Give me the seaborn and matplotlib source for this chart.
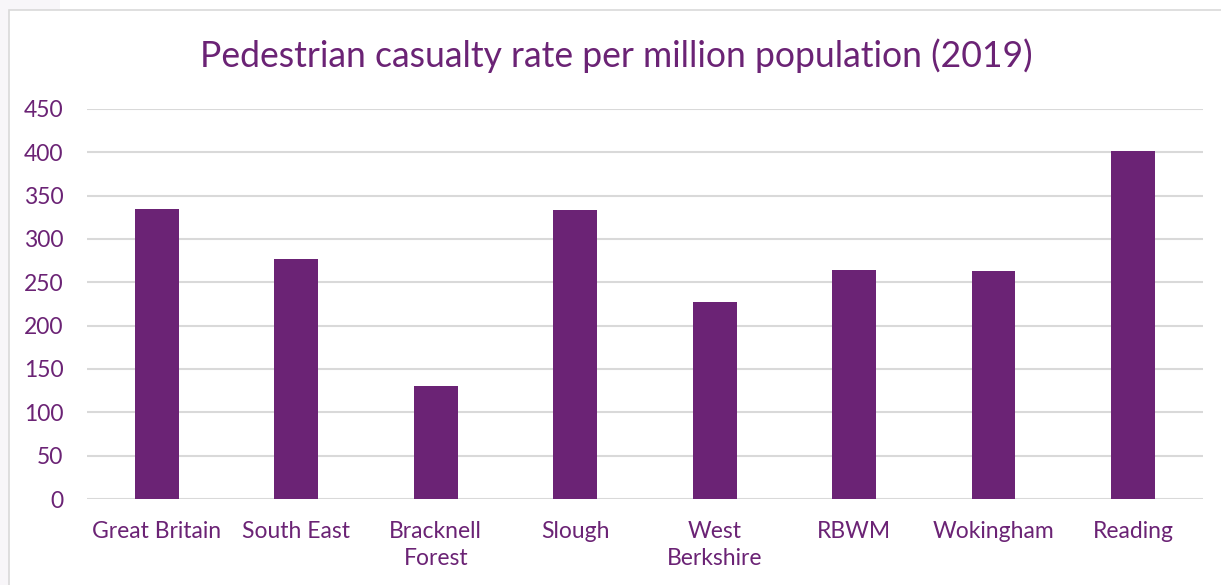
import matplotlib
matplotlib.use("Agg")
import matplotlib.pyplot as plt
import matplotlib.patches as mpatches
import seaborn as sns
import pandas as pd

areas = ["Great Britain", "South East", "Bracknell\nForest", "Slough",
         "West\nBerkshire", "RBWM", "Wokingham", "Reading"]
rates = [335, 277, 130, 334, 227, 264, 263, 401]
y_ticks = [0, 50, 100, 150, 200, 250, 300, 350, 400, 450]

purple = "#6B2375"
grid_grey = "#D9D9D9"

sns.set_theme(style="white")
plt.rcParams["font.family"] = ["Lato", "DejaVu Sans"]

df = pd.DataFrame({"area": areas, "rate": rates})

fig = plt.figure(figsize=(12.21, 5.85), dpi=100)
ax = fig.add_axes([0.0713, 0.147, 0.9137, 0.6667])

# chart frame and page edge
fig.patches.append(mpatches.Rectangle((0, 0), 9 / 1221, 1, transform=fig.transFigure,
                                      facecolor="#F8F6F9", edgecolor="none", zorder=0))
fig.patches.append(mpatches.Rectangle((0, 1 - 10 / 585), 60 / 1221, 10 / 585,
                                      transform=fig.transFigure,
                                      facecolor="#F8F6F9", edgecolor="none", zorder=0))
fig.patches.append(mpatches.Rectangle((9 / 1221, -0.05), 1.1, 1 - 10 / 585 + 0.05,
                                      transform=fig.transFigure, facecolor="none",
                                      edgecolor="#D9D9D9", linewidth=1.2, zorder=1))

sns.barplot(data=df, x="area", y="rate", color=purple, saturation=1,
            width=0.315, ax=ax, zorder=3)
for p in ax.patches:
    p.set_edgecolor("none")

ax.set_ylim(0, 450)
ax.set_xlim(-0.5, len(areas) - 0.5)
ax.set_yticks(y_ticks)
ax.yaxis.grid(True, color=grid_grey, linewidth=1.5, zorder=0)
ax.set_axisbelow(True)
for s in ax.spines.values():
    s.set_visible(False)

ax.set_xlabel("")
ax.set_ylabel("")
ax.tick_params(axis="both", length=0, labelsize=16.5, labelcolor=purple)
ax.tick_params(axis="y", pad=17)
ax.tick_params(axis="x", pad=16)
for lbl in ax.get_xticklabels():
    lbl.set_linespacing(1.35)

fig.text(0.5045, 0.904, "Pedestrian casualty rate per million population (2019)",
         ha="center", va="center", fontsize=25.6, color=purple)

fig.savefig("out.png", dpi=100)
